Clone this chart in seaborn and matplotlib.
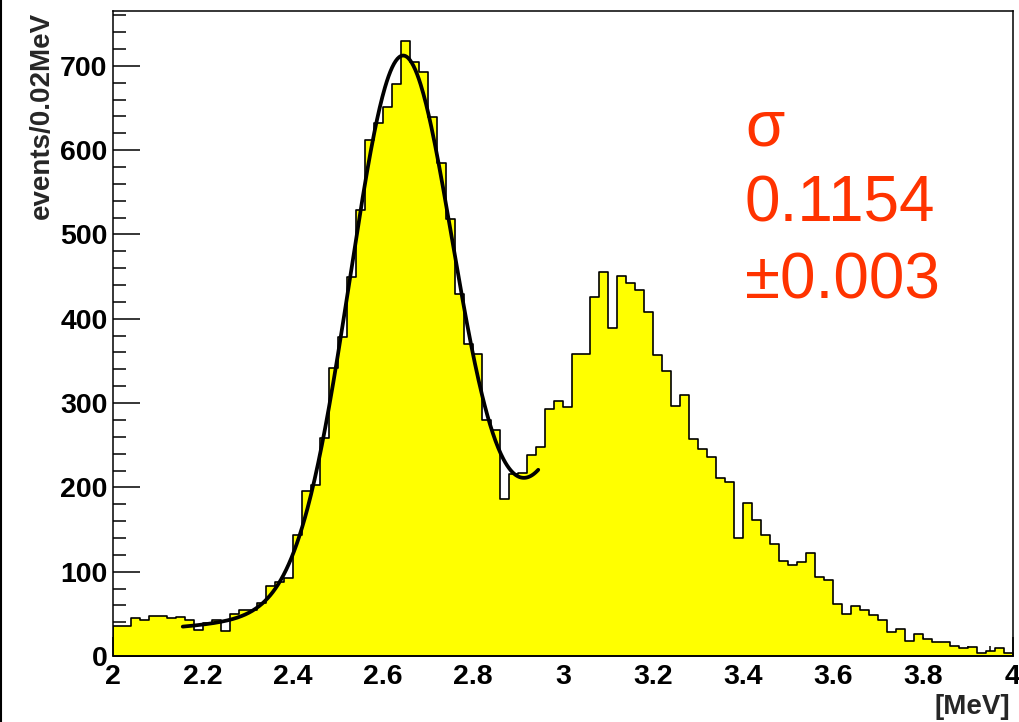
import numpy as np
import pandas as pd
import matplotlib
matplotlib.use("Agg")
import matplotlib.pyplot as plt
from matplotlib.lines import Line2D
from matplotlib.ticker import MultipleLocator, FormatStrFormatter
import seaborn as sns

# Histogram: 100 bins of 0.02 MeV between 2 and 4 MeV
bin_lo, bin_hi, n_bins = 2.0, 4.0, 100
counts = [35, 35, 45, 43, 47, 48, 45, 46, 43, 31,
          39, 43, 30, 50, 55, 55, 63, 83, 88, 93,
          143, 196, 203, 258, 341, 378, 449, 529, 612, 632,
          651, 679, 729, 704, 693, 639, 585, 518, 429, 370,
          358, 280, 268, 186, 216, 217, 238, 248, 293, 302,
          295, 358, 358, 426, 456, 389, 451, 442, 434, 408,
          357, 338, 296, 310, 257, 245, 236, 211, 206, 140,
          182, 161, 144, 133, 113, 108, 112, 122, 94, 90,
          62, 50, 59, 55, 49, 43, 28, 32, 18, 26,
          20, 17, 17, 12, 9, 11, 4, 6, 9, 3]

# Fit of the first peak: narrow gaussian with fixed width plus a broad
# component, a constant and an exponential rise toward the second peak
sigma_narrow = 0.1154
sigma_err = 0.003
fit_lo, fit_hi = 2.155, 2.945

edges = np.linspace(bin_lo, bin_hi, n_bins + 1)
centers = 0.5 * (edges[:-1] + edges[1:])
y = np.asarray(counts, dtype=float)


def gauss(x, mu, s):
    return np.exp(-0.5 * ((x - mu) / s) ** 2)


def design(x, mu, s2, b):
    return np.column_stack([gauss(x, mu, sigma_narrow), gauss(x, mu, s2),
                            np.ones_like(x), np.exp(b * (x - fit_hi))])


sel = (centers > fit_lo) & (centers < fit_hi)
xf, yf = centers[sel], y[sel]
w = 1.0 / np.sqrt(np.maximum(yf, 1.0))
best = None
for mu in np.linspace(2.63, 2.67, 21):
    for s2 in np.linspace(0.14, 0.30, 17):
        for b in np.linspace(2.0, 7.0, 21):
            M = design(xf, mu, s2, b)
            coef, *_ = np.linalg.lstsq(M * w[:, None], yf * w, rcond=None)
            chi2 = np.sum(((M @ coef - yf) * w) ** 2)
            if best is None or chi2 < best[0]:
                best = (chi2, mu, s2, b, coef)
_, mu_f, s2_f, b_f, coef_f = best
x_fit = np.linspace(fit_lo, fit_hi, 400)
y_fit = design(x_fit, mu_f, s2_f, b_f) @ coef_f

sns.set_theme(style="ticks")
plt.rcParams["font.family"] = ["Liberation Sans", "DejaVu Sans"]

fig = plt.figure(figsize=(10.2, 7.22), dpi=100)
fig.patch.set_facecolor("white")
ax = fig.add_axes([113 / 1020, 1 - 656 / 722, 900 / 1020, 645 / 722])
ax.set_facecolor("white")

df = pd.DataFrame({"energy": centers, "events": y})
sns.histplot(data=df, x="energy", weights="events", bins=n_bins,
             binrange=(bin_lo, bin_hi), element="step", fill=True,
             color="#ffff00", alpha=1, edgecolor="black", linewidth=1.2,
             ax=ax)
sns.lineplot(x=x_fit, y=y_fit, color="black", linewidth=2.7, ax=ax)

ax.set_xlim(bin_lo, bin_hi)
ax.set_ylim(0, 765)
ax.set_xlabel("")
ax.set_ylabel("")

ax.xaxis.set_major_locator(MultipleLocator(0.2))
ax.xaxis.set_minor_locator(MultipleLocator(0.05))
ax.yaxis.set_major_locator(MultipleLocator(100))
ax.yaxis.set_minor_locator(MultipleLocator(20))
ax.xaxis.set_major_formatter(FormatStrFormatter("%g"))
ax.yaxis.set_major_formatter(FormatStrFormatter("%g"))

ax.tick_params(which="both", direction="in", top=False, right=False,
               width=1.1, color="black")
ax.tick_params(axis="x", which="major", length=13.5, pad=6)
ax.tick_params(axis="x", which="minor", length=7)
ax.tick_params(axis="y", which="major", length=19.5, pad=4)
ax.tick_params(axis="y", which="minor", length=9.5)
for lab in ax.get_xticklabels() + ax.get_yticklabels():
    lab.set_fontsize(20.5)
    lab.set_fontweight("bold")
    lab.set_color("black")
for sp in ax.spines.values():
    sp.set_visible(True)
    sp.set_color("black")
    sp.set_linewidth(1.1)

fig.text(42 / 1020, 1 - 12 / 722, "events/0.02MeV", rotation=90,
         ha="center", va="top", fontsize=20, fontweight="bold")
fig.text(1010 / 1020, 1 - 707 / 722, "[MeV]", ha="right", va="center",
         fontsize=20, fontweight="bold")

red = "#ff3300"
fig.text(745 / 1020, 1 - 145 / 722, "σ", color=red, fontsize=46, va="baseline")
fig.text(745 / 1020, 1 - 222 / 722, f"{sigma_narrow:.4f}", color=red,
         fontsize=46, va="baseline")
fig.text(745 / 1020, 1 - 298 / 722, f"±{sigma_err:.3f}", color=red,
         fontsize=46, va="baseline")

fig.add_artist(Line2D([0.001, 0.001], [0, 1], color="black", lw=1.5,
                      transform=fig.transFigure))

fig.savefig("out.png", dpi=100)
